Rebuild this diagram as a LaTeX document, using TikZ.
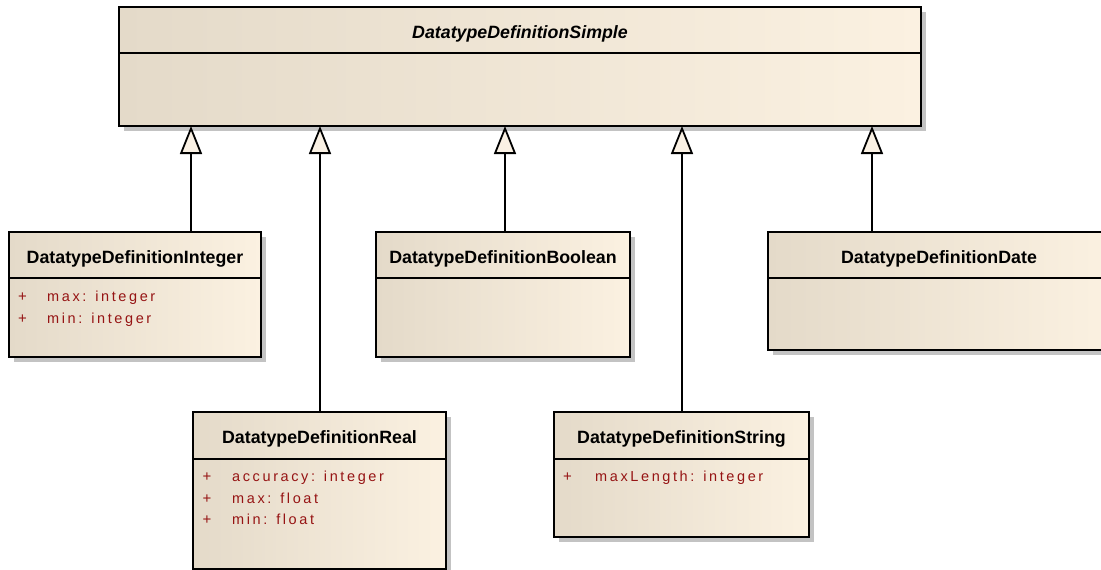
\documentclass[tikz,border=0pt]{standalone}
\usepackage{fontspec}
\setmainfont{Liberation Sans}
\newfontfamily\attrfont[LetterSpace=18]{Liberation Sans}
\usetikzlibrary{arrows.meta,shadows}
\definecolor{bgL}{RGB}{228,218,201}
\definecolor{bgR}{RGB}{251,241,225}
\definecolor{shadowgray}{RGB}{195,195,195}
\definecolor{attrred}{RGB}{150,20,20}
\definecolor{tipfill}{RGB}{250,241,228}
\tikzset{
  cls/.style={draw=black, line width=1.8pt, rectangle, inner sep=0pt, outer sep=0pt,
    anchor=north west, left color=bgL, right color=bgR,
    drop shadow={shadow xshift=5pt, shadow yshift=-5pt, fill=shadowgray, opacity=1}},
  divline/.style={draw=black, line width=1.8pt},
  clsname/.style={anchor=base, inner sep=0pt, font=\bfseries\fontsize{17.8}{20}\selectfont},
  absname/.style={clsname, font=\bfseries\itshape\fontsize{17.8}{20}\selectfont},
  attr/.style={anchor=base west, inner sep=0pt, text=attrred, font=\attrfont\fontsize{14.5}{17}\selectfont},
  plus/.style={anchor=base, inner sep=0pt, text=attrred, font=\fontsize{15}{17}\selectfont},
  gen/.style={draw=black, line width=1.8pt, -{Triangle[length=28pt, width=22pt, fill=tipfill]}}
}
\begin{document}
\begin{tikzpicture}[x=1pt, y=-1pt]
\clip (0,0) rectangle (1101,570);
\fill[white] (0,0) rectangle (1101,570);

% parent
\node[cls, minimum width=802pt, minimum height=119pt] (simple) at (119,7) {};
\draw[divline] ([yshift=-46pt]simple.north west) -- ([yshift=-46pt]simple.north east);
\node[absname] (simplename) at ([yshift=-31pt]simple.north) {DatatypeDefinitionSimple};

% Integer
\node[cls, minimum width=252pt, minimum height=125pt] (int) at (9,232) {};
\draw[divline] ([yshift=-46pt]int.north west) -- ([yshift=-46pt]int.north east);
\node[clsname] (intname) at ([yshift=-31pt]int.north) {DatatypeDefinitionInteger};
\node[plus] (intp1) at ([xshift=13.5pt,yshift=-69.5pt]int.north west) {+};
\node[attr] (inta1) at ([xshift=38pt,yshift=-69.5pt]int.north west) {max: integer};
\node[plus] (intp2) at ([xshift=13.5pt,yshift=-91pt]int.north west) {+};
\node[attr] (inta2) at ([xshift=38pt,yshift=-91pt]int.north west) {min: integer};

% Boolean
\node[cls, minimum width=254pt, minimum height=125pt] (bool) at (376,232) {};
\draw[divline] ([yshift=-46pt]bool.north west) -- ([yshift=-46pt]bool.north east);
\node[clsname] (boolname) at ([yshift=-31pt]bool.north) {DatatypeDefinitionBoolean};

% Date
\node[cls, minimum width=342pt, minimum height=118pt] (date) at (768,232) {};
\draw[divline] ([yshift=-46pt]date.north west) -- ([yshift=-46pt]date.north east);
\node[clsname] (datename) at ([yshift=-31pt]date.north) {DatatypeDefinitionDate};

% Real
\node[cls, minimum width=253pt, minimum height=157pt] (real) at (193,412) {};
\draw[divline] ([yshift=-47pt]real.north west) -- ([yshift=-47pt]real.north east);
\node[clsname] (realname) at ([yshift=-31pt]real.north) {DatatypeDefinitionReal};
\node[plus] (realp1) at ([xshift=14pt,yshift=-69.5pt]real.north west) {+};
\node[attr] (reala1) at ([xshift=39pt,yshift=-69.5pt]real.north west) {accuracy: integer};
\node[plus] (realp2) at ([xshift=14pt,yshift=-91pt]real.north west) {+};
\node[attr] (reala2) at ([xshift=39pt,yshift=-91pt]real.north west) {max: float};
\node[plus] (realp3) at ([xshift=14pt,yshift=-112.5pt]real.north west) {+};
\node[attr] (reala3) at ([xshift=39pt,yshift=-112.5pt]real.north west) {min: float};

% String
\node[cls, minimum width=255pt, minimum height=125pt] (string) at (554,412) {};
\draw[divline] ([yshift=-47pt]string.north west) -- ([yshift=-47pt]string.north east);
\node[clsname] (stringname) at ([yshift=-31pt]string.north) {DatatypeDefinitionString};
\node[plus] (stringp1) at ([xshift=13.5pt,yshift=-69.5pt]string.north west) {+};
\node[attr] (stringa1) at ([xshift=41pt,yshift=-69.5pt]string.north west) {maxLength: integer};

% generalizations
\draw[gen] ([xshift=56pt]int.north) -- ([xshift=56pt]int.north |- simple.south);
\draw[gen] ([xshift=0.5pt]real.north) -- ([xshift=0.5pt]real.north |- simple.south);
\draw[gen] ([xshift=2pt]bool.north) -- ([xshift=2pt]bool.north |- simple.south);
\draw[gen] ([xshift=0.5pt]string.north) -- ([xshift=0.5pt]string.north |- simple.south);
\draw[gen] ([xshift=-67pt]date.north) -- ([xshift=-67pt]date.north |- simple.south);
\end{tikzpicture}
\end{document}
